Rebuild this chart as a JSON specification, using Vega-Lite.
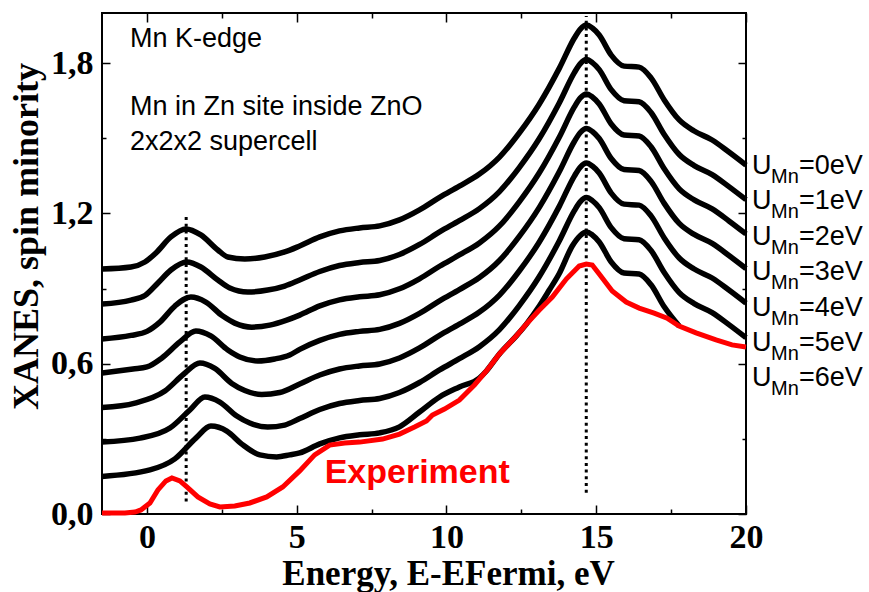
{
  "$schema": "https://vega.github.io/schema/vega-lite/v6.json",
  "width": 644,
  "height": 501,
  "autosize": {"type": "none"},
  "padding": {"left": 102, "top": 13, "right": 123, "bottom": 78},
  "background": "white",
  "config": {
    "view": {"stroke": "black", "strokeWidth": 2},
    "axis": {"grid": false, "domain": false, "tickColor": "black", "tickWidth": 1.5, "labelColor": "black", "titleColor": "black"}
  },
  "datasets": {
    "curves": [
      {"u":"0","x":-1.5,"y":0.978},{"u":"0","x":-0.533,"y":0.986},{"u":"0","x":-0.067,"y":1.006},{"u":"0","x":0.3,"y":1.042},{"u":"0","x":0.8,"y":1.106},{"u":"0","x":1.3,"y":1.138},{"u":"0","x":1.8,"y":1.114},{"u":"0","x":2.367,"y":1.054},{"u":"0","x":2.7,"y":1.026},{"u":"0","x":3.267,"y":1.018},{"u":"0","x":3.933,"y":1.026},{"u":"0","x":4.6,"y":1.046},{"u":"0","x":5.1,"y":1.07},{"u":"0","x":5.77,"y":1.106},{"u":"0","x":6.43,"y":1.13},{"u":"0","x":7.1,"y":1.142},{"u":"0","x":7.77,"y":1.15},{"u":"0","x":8.43,"y":1.174},{"u":"0","x":9.1,"y":1.214},{"u":"0","x":9.77,"y":1.264},{"u":"0","x":10.43,"y":1.309},{"u":"0","x":11.1,"y":1.357},{"u":"0","x":11.77,"y":1.425},{"u":"0","x":12.43,"y":1.521},{"u":"0","x":13.1,"y":1.637},{"u":"0","x":13.77,"y":1.78},{"u":"0","x":14.27,"y":1.9},{"u":"0","x":14.47,"y":1.936},{"u":"0","x":14.67,"y":1.952},{"u":"0","x":14.87,"y":1.94},{"u":"0","x":15.1,"y":1.912},{"u":"0","x":15.5,"y":1.832},{"u":"0","x":15.93,"y":1.788},{"u":"0","x":16.43,"y":1.784},{"u":"0","x":16.83,"y":1.741},{"u":"0","x":17.27,"y":1.653},{"u":"0","x":17.77,"y":1.573},{"u":"0","x":18.27,"y":1.529},{"u":"0","x":18.87,"y":1.493},{"u":"0","x":19.43,"y":1.445},{"u":"0","x":20,"y":1.393},
      {"u":"1","x":-1.5,"y":0.838},{"u":"1","x":-0.533,"y":0.854},{"u":"1","x":-0.067,"y":0.872},{"u":"1","x":0.367,"y":0.922},{"u":"1","x":0.8,"y":0.974},{"u":"1","x":1.333,"y":1.006},{"u":"1","x":1.8,"y":0.986},{"u":"1","x":2.367,"y":0.934},{"u":"1","x":2.767,"y":0.902},{"u":"1","x":3.367,"y":0.886},{"u":"1","x":4.033,"y":0.894},{"u":"1","x":4.6,"y":0.91},{"u":"1","x":5.1,"y":0.934},{"u":"1","x":5.77,"y":0.968},{"u":"1","x":6.43,"y":0.992},{"u":"1","x":7.1,"y":1.004},{"u":"1","x":7.77,"y":1.012},{"u":"1","x":8.43,"y":1.036},{"u":"1","x":9.1,"y":1.076},{"u":"1","x":9.77,"y":1.126},{"u":"1","x":10.43,"y":1.171},{"u":"1","x":11.1,"y":1.219},{"u":"1","x":11.77,"y":1.287},{"u":"1","x":12.43,"y":1.383},{"u":"1","x":13.1,"y":1.499},{"u":"1","x":13.77,"y":1.642},{"u":"1","x":14.27,"y":1.762},{"u":"1","x":14.47,"y":1.798},{"u":"1","x":14.67,"y":1.814},{"u":"1","x":14.87,"y":1.802},{"u":"1","x":15.1,"y":1.774},{"u":"1","x":15.5,"y":1.694},{"u":"1","x":15.93,"y":1.65},{"u":"1","x":16.43,"y":1.646},{"u":"1","x":16.83,"y":1.603},{"u":"1","x":17.27,"y":1.515},{"u":"1","x":17.77,"y":1.435},{"u":"1","x":18.27,"y":1.391},{"u":"1","x":18.87,"y":1.355},{"u":"1","x":19.43,"y":1.307},{"u":"1","x":20,"y":1.255},
      {"u":"2","x":-1.5,"y":0.699},{"u":"2","x":-0.533,"y":0.713},{"u":"2","x":0,"y":0.729},{"u":"2","x":0.433,"y":0.766},{"u":"2","x":0.933,"y":0.83},{"u":"2","x":1.467,"y":0.866},{"u":"2","x":1.967,"y":0.846},{"u":"2","x":2.533,"y":0.79},{"u":"2","x":2.933,"y":0.762},{"u":"2","x":3.5,"y":0.746},{"u":"2","x":4.1,"y":0.754},{"u":"2","x":4.667,"y":0.774},{"u":"2","x":5.1,"y":0.794},{"u":"2","x":5.77,"y":0.831},{"u":"2","x":6.43,"y":0.855},{"u":"2","x":7.1,"y":0.867},{"u":"2","x":7.77,"y":0.875},{"u":"2","x":8.43,"y":0.899},{"u":"2","x":9.1,"y":0.939},{"u":"2","x":9.77,"y":0.989},{"u":"2","x":10.43,"y":1.034},{"u":"2","x":11.1,"y":1.082},{"u":"2","x":11.77,"y":1.15},{"u":"2","x":12.43,"y":1.246},{"u":"2","x":13.1,"y":1.362},{"u":"2","x":13.77,"y":1.505},{"u":"2","x":14.27,"y":1.625},{"u":"2","x":14.47,"y":1.661},{"u":"2","x":14.67,"y":1.677},{"u":"2","x":14.87,"y":1.665},{"u":"2","x":15.1,"y":1.637},{"u":"2","x":15.5,"y":1.557},{"u":"2","x":15.93,"y":1.513},{"u":"2","x":16.43,"y":1.509},{"u":"2","x":16.83,"y":1.466},{"u":"2","x":17.27,"y":1.378},{"u":"2","x":17.77,"y":1.298},{"u":"2","x":18.27,"y":1.254},{"u":"2","x":18.87,"y":1.218},{"u":"2","x":19.43,"y":1.17},{"u":"2","x":20,"y":1.118},
      {"u":"3","x":-1.5,"y":0.563},{"u":"3","x":-0.467,"y":0.579},{"u":"3","x":0,"y":0.587},{"u":"3","x":0.5,"y":0.623},{"u":"3","x":1.1,"y":0.687},{"u":"3","x":1.633,"y":0.731},{"u":"3","x":2.133,"y":0.711},{"u":"3","x":2.7,"y":0.655},{"u":"3","x":3.1,"y":0.627},{"u":"3","x":3.7,"y":0.611},{"u":"3","x":4.267,"y":0.619},{"u":"3","x":4.767,"y":0.635},{"u":"3","x":5.1,"y":0.657},{"u":"3","x":5.77,"y":0.693},{"u":"3","x":6.43,"y":0.717},{"u":"3","x":7.1,"y":0.729},{"u":"3","x":7.77,"y":0.737},{"u":"3","x":8.43,"y":0.761},{"u":"3","x":9.1,"y":0.801},{"u":"3","x":9.77,"y":0.851},{"u":"3","x":10.43,"y":0.896},{"u":"3","x":11.1,"y":0.944},{"u":"3","x":11.77,"y":1.012},{"u":"3","x":12.43,"y":1.108},{"u":"3","x":13.1,"y":1.224},{"u":"3","x":13.77,"y":1.367},{"u":"3","x":14.27,"y":1.487},{"u":"3","x":14.47,"y":1.523},{"u":"3","x":14.67,"y":1.539},{"u":"3","x":14.87,"y":1.527},{"u":"3","x":15.1,"y":1.499},{"u":"3","x":15.5,"y":1.419},{"u":"3","x":15.93,"y":1.375},{"u":"3","x":16.43,"y":1.371},{"u":"3","x":16.83,"y":1.328},{"u":"3","x":17.27,"y":1.24},{"u":"3","x":17.77,"y":1.16},{"u":"3","x":18.27,"y":1.116},{"u":"3","x":18.87,"y":1.08},{"u":"3","x":19.43,"y":1.032},{"u":"3","x":20,"y":0.98},
      {"u":"4","x":-1.5,"y":0.425},{"u":"4","x":-0.4,"y":0.443},{"u":"4","x":0.6,"y":0.491},{"u":"4","x":1.233,"y":0.559},{"u":"4","x":1.767,"y":0.603},{"u":"4","x":2.267,"y":0.581},{"u":"4","x":2.833,"y":0.521},{"u":"4","x":3.267,"y":0.493},{"u":"4","x":3.833,"y":0.477},{"u":"4","x":4.433,"y":0.485},{"u":"4","x":5.1,"y":0.519},{"u":"4","x":5.77,"y":0.555},{"u":"4","x":6.43,"y":0.579},{"u":"4","x":7.1,"y":0.591},{"u":"4","x":7.77,"y":0.599},{"u":"4","x":8.43,"y":0.623},{"u":"4","x":9.1,"y":0.663},{"u":"4","x":9.77,"y":0.713},{"u":"4","x":10.43,"y":0.758},{"u":"4","x":11.1,"y":0.806},{"u":"4","x":11.77,"y":0.874},{"u":"4","x":12.43,"y":0.97},{"u":"4","x":13.1,"y":1.086},{"u":"4","x":13.77,"y":1.229},{"u":"4","x":14.27,"y":1.349},{"u":"4","x":14.47,"y":1.385},{"u":"4","x":14.67,"y":1.401},{"u":"4","x":14.87,"y":1.389},{"u":"4","x":15.1,"y":1.361},{"u":"4","x":15.5,"y":1.281},{"u":"4","x":15.93,"y":1.237},{"u":"4","x":16.43,"y":1.233},{"u":"4","x":16.83,"y":1.19},{"u":"4","x":17.27,"y":1.102},{"u":"4","x":17.77,"y":1.022},{"u":"4","x":18.27,"y":0.978},{"u":"4","x":18.87,"y":0.942},{"u":"4","x":19.43,"y":0.894},{"u":"4","x":20,"y":0.842},
      {"u":"5","x":-1.5,"y":0.287},{"u":"5","x":-0.233,"y":0.303},{"u":"5","x":0.767,"y":0.343},{"u":"5","x":1.433,"y":0.415},{"u":"5","x":1.933,"y":0.467},{"u":"5","x":2.433,"y":0.447},{"u":"5","x":3.0,"y":0.391},{"u":"5","x":3.433,"y":0.363},{"u":"5","x":4.033,"y":0.347},{"u":"5","x":4.6,"y":0.355},{"u":"5","x":5.1,"y":0.381},{"u":"5","x":5.77,"y":0.417},{"u":"5","x":6.43,"y":0.441},{"u":"5","x":7.1,"y":0.453},{"u":"5","x":7.77,"y":0.461},{"u":"5","x":8.43,"y":0.485},{"u":"5","x":9.1,"y":0.525},{"u":"5","x":9.77,"y":0.575},{"u":"5","x":10.43,"y":0.62},{"u":"5","x":11.1,"y":0.668},{"u":"5","x":11.77,"y":0.736},{"u":"5","x":12.43,"y":0.832},{"u":"5","x":13.1,"y":0.948},{"u":"5","x":13.77,"y":1.091},{"u":"5","x":14.27,"y":1.211},{"u":"5","x":14.47,"y":1.247},{"u":"5","x":14.67,"y":1.263},{"u":"5","x":14.87,"y":1.251},{"u":"5","x":15.1,"y":1.223},{"u":"5","x":15.5,"y":1.143},{"u":"5","x":15.93,"y":1.099},{"u":"5","x":16.43,"y":1.095},{"u":"5","x":16.83,"y":1.052},{"u":"5","x":17.27,"y":0.964},{"u":"5","x":17.77,"y":0.884},{"u":"5","x":18.27,"y":0.84},{"u":"5","x":18.87,"y":0.804},{"u":"5","x":19.43,"y":0.756},{"u":"5","x":20,"y":0.704},
      {"u":"6","x":-1.5,"y":0.15},{"u":"6","x":0.1,"y":0.176},{"u":"6","x":0.933,"y":0.22},{"u":"6","x":1.633,"y":0.303},{"u":"6","x":2.133,"y":0.351},{"u":"6","x":2.667,"y":0.331},{"u":"6","x":3.167,"y":0.279},{"u":"6","x":3.767,"y":0.236},{"u":"6","x":4.333,"y":0.228},{"u":"6","x":4.767,"y":0.236},{"u":"6","x":5.1,"y":0.244},{"u":"6","x":5.77,"y":0.28},{"u":"6","x":6.43,"y":0.304},{"u":"6","x":7.1,"y":0.316},{"u":"6","x":7.77,"y":0.324},{"u":"6","x":8.43,"y":0.348},{"u":"6","x":9.1,"y":0.407},{"u":"6","x":9.77,"y":0.467},{"u":"6","x":10.43,"y":0.507},{"u":"6","x":11.1,"y":0.543},{"u":"6","x":11.333,"y":0.571},{"u":"6","x":11.767,"y":0.639},{"u":"6","x":12.333,"y":0.711},{"u":"6","x":12.667,"y":0.758},{"u":"6","x":13.1,"y":0.83},{"u":"6","x":13.433,"y":0.894},{"u":"6","x":13.767,"y":0.96},{"u":"6","x":14.2,"y":1.07},{"u":"6","x":14.47,"y":1.112},{"u":"6","x":14.67,"y":1.126},{"u":"6","x":14.87,"y":1.114},{"u":"6","x":15.1,"y":1.086},{"u":"6","x":15.5,"y":1.006},{"u":"6","x":15.93,"y":0.962},{"u":"6","x":16.43,"y":0.958},{"u":"6","x":16.83,"y":0.915},{"u":"6","x":17.27,"y":0.827},{"u":"6","x":17.77,"y":0.75}
    ],
    "exp": [
      {"x":-1.5,"y":0.004},{"x":-0.733,"y":0.004},{"x":-0.4,"y":0.008},{"x":-0.2,"y":0.016},{"x":0.1,"y":0.044},{"x":0.367,"y":0.096},{"x":0.633,"y":0.132},{"x":0.833,"y":0.144},{"x":1.1,"y":0.132},{"x":1.333,"y":0.108},{"x":1.7,"y":0.068},{"x":2.1,"y":0.04},{"x":2.433,"y":0.028},{"x":2.933,"y":0.032},{"x":3.433,"y":0.044},{"x":4.0,"y":0.068},{"x":4.533,"y":0.108},{"x":5.1,"y":0.172},{"x":5.6,"y":0.236},{"x":6.1,"y":0.275},{"x":6.6,"y":0.283},{"x":7.1,"y":0.287},{"x":7.867,"y":0.299},{"x":8.433,"y":0.319},{"x":8.933,"y":0.347},{"x":9.333,"y":0.371},{"x":9.533,"y":0.395},{"x":9.933,"y":0.419},{"x":10.433,"y":0.455},{"x":10.933,"y":0.515},{"x":11.333,"y":0.571},{"x":11.767,"y":0.639},{"x":12.333,"y":0.711},{"x":12.667,"y":0.758},{"x":13.1,"y":0.814},{"x":13.533,"y":0.866},{"x":14.0,"y":0.938},{"x":14.433,"y":0.99},{"x":14.667,"y":0.998},{"x":14.867,"y":0.994},{"x":15.1,"y":0.958},{"x":15.533,"y":0.89},{"x":16.0,"y":0.846},{"x":16.433,"y":0.822},{"x":16.933,"y":0.802},{"x":17.367,"y":0.782},{"x":17.767,"y":0.75},{"x":18.333,"y":0.723},{"x":19.0,"y":0.695},{"x":19.533,"y":0.675},{"x":20,"y":0.667}
    ],
    "dots": [
      {"x": 1.31, "y": 0.05, "y2": 1.2},
      {"x": 14.667, "y": 0.085, "y2": 1.988}
    ],
    "notes": [
      {"x": -0.567, "y": 1.864, "t": "Mn K-edge"},
      {"x": -0.567, "y": 1.593, "t": "Mn in Zn site inside ZnO"},
      {"x": -0.567, "y": 1.453, "t": "2x2x2 supercell"}
    ],
    "expl": [
      {"x": 5.933, "y": 0.124, "t": "Experiment"}
    ],
    "ulabels": [
      {"x": 20.2, "y": 1.357, "rest": "=0eV"},
      {"x": 20.2, "y": 1.216, "rest": "=1eV"},
      {"x": 20.2, "y": 1.074, "rest": "=2eV"},
      {"x": 20.2, "y": 0.933, "rest": "=3eV"},
      {"x": 20.2, "y": 0.792, "rest": "=4eV"},
      {"x": 20.2, "y": 0.65, "rest": "=5eV"},
      {"x": 20.2, "y": 0.509, "rest": "=6eV"}
    ]
  },
  "layer": [
    {
      "data": {"name": "dots"},
      "mark": {"type": "rule", "color": "black", "strokeWidth": 3, "strokeDash": [3, 3.7]},
      "encoding": {
        "x": {"field": "x", "type": "quantitative", "scale": {"domain": [-1.5, 20], "nice": false, "zero": false},
              "axis": {"orient": "top", "values": [0, 5, 10, 15, 20], "tickSize": -9, "labels": false, "title": null}},
        "y": {"field": "y", "type": "quantitative", "scale": {"domain": [0, 2], "nice": false, "zero": false},
              "axis": {"orient": "right", "values": [0, 0.6, 1.2, 1.8], "tickSize": -8, "labels": false, "title": null}},
        "y2": {"field": "y2"}
      }
    },
    {
      "data": {"name": "curves"},
      "mark": {"type": "line", "color": "black", "strokeWidth": 5.5, "interpolate": "monotone"},
      "encoding": {
        "x": {"field": "x", "type": "quantitative", "scale": {"domain": [-1.5, 20], "nice": false, "zero": false},
              "axis": {"orient": "bottom", "values": [0, 5, 10, 15, 20], "tickSize": -9, "labelFont": "Liberation Serif", "labelFontWeight": "bold", "labelFontSize": 34, "labelPadding": 15, "labelFlush": false, "labelOverlap": false,
                       "title": "Energy, E-EFermi, eV", "titleFont": "Liberation Serif", "titleFontWeight": "bold", "titleFontSize": 35, "titleX": 346, "titleY": 70, "titleAlign": "center", "titleBaseline": "alphabetic"}},
        "y": {"field": "y", "type": "quantitative", "scale": {"domain": [0, 2], "nice": false, "zero": false},
              "axis": {"orient": "left", "values": [0, 0.6, 1.2, 1.8], "tickSize": -8, "labelFont": "Liberation Serif", "labelFontWeight": "bold", "labelFontSize": 34, "labelPadding": 17, "labelFlush": false, "labelOverlap": false,
                       "labelExpr": "replace(format(datum.value, '.1f'), '.', ',')",
                       "title": "XANES, spin minority", "titleFont": "Liberation Serif", "titleFontWeight": "bold", "titleFontSize": 36, "titleX": -65, "titleY": 223, "titleAlign": "center", "titleBaseline": "alphabetic", "titleAngle": 270}},
        "detail": {"field": "u", "type": "nominal"}
      }
    },
    {
      "data": {"name": "exp"},
      "mark": {"type": "line", "color": "#ff0000", "strokeWidth": 5},
      "encoding": {
        "x": {"field": "x", "type": "quantitative", "scale": {"domain": [-1.5, 20], "nice": false, "zero": false},
              "axis": {"orient": "bottom", "values": [2.5, 7.5, 12.5, 17.5], "tickSize": -5, "labels": false, "title": null}},
        "y": {"field": "y", "type": "quantitative", "scale": {"domain": [0, 2], "nice": false, "zero": false},
              "axis": {"orient": "left", "values": [0.3, 0.9, 1.5], "tickSize": -4, "labels": false, "title": null}}
      }
    },
    {
      "data": {"name": "notes"},
      "mark": {"type": "text", "color": "black", "font": "Liberation Sans", "fontSize": 27, "align": "left", "baseline": "alphabetic"},
      "encoding": {
        "x": {"field": "x", "type": "quantitative", "scale": {"domain": [-1.5, 20], "nice": false, "zero": false},
              "axis": {"orient": "top", "values": [2.5, 7.5, 12.5, 17.5], "tickSize": -5, "labels": false, "title": null}},
        "y": {"field": "y", "type": "quantitative", "scale": {"domain": [0, 2], "nice": false, "zero": false},
              "axis": {"orient": "right", "values": [0.3, 0.9, 1.5], "tickSize": -4, "labels": false, "title": null}},
        "text": {"field": "t"}
      }
    },
    {
      "data": {"name": "expl"},
      "mark": {"type": "text", "color": "#ff0000", "font": "Liberation Sans", "fontWeight": "bold", "fontSize": 34, "align": "left", "baseline": "alphabetic"},
      "encoding": {
        "x": {"field": "x", "type": "quantitative", "scale": {"domain": [-1.5, 20], "nice": false, "zero": false}, "axis": null},
        "y": {"field": "y", "type": "quantitative", "scale": {"domain": [0, 2], "nice": false, "zero": false}, "axis": null},
        "text": {"field": "t"}
      }
    },
    {
      "data": {"name": "ulabels"},
      "mark": {"type": "text", "text": "U", "color": "black", "font": "Liberation Sans", "fontSize": 27, "align": "left", "baseline": "alphabetic"},
      "encoding": {
        "x": {"field": "x", "type": "quantitative", "scale": {"domain": [-1.5, 20], "nice": false, "zero": false}, "axis": null},
        "y": {"field": "y", "type": "quantitative", "scale": {"domain": [0, 2], "nice": false, "zero": false}, "axis": null}
      }
    },
    {
      "data": {"name": "ulabels"},
      "mark": {"type": "text", "text": "Mn", "color": "black", "font": "Liberation Sans", "fontSize": 20, "align": "left", "baseline": "alphabetic", "dx": 19, "dy": 9},
      "encoding": {
        "x": {"field": "x", "type": "quantitative", "scale": {"domain": [-1.5, 20], "nice": false, "zero": false}, "axis": null},
        "y": {"field": "y", "type": "quantitative", "scale": {"domain": [0, 2], "nice": false, "zero": false}, "axis": null}
      }
    },
    {
      "data": {"name": "ulabels"},
      "mark": {"type": "text", "color": "black", "font": "Liberation Sans", "fontSize": 27, "align": "left", "baseline": "alphabetic", "dx": 47},
      "encoding": {
        "x": {"field": "x", "type": "quantitative", "scale": {"domain": [-1.5, 20], "nice": false, "zero": false}, "axis": null},
        "y": {"field": "y", "type": "quantitative", "scale": {"domain": [0, 2], "nice": false, "zero": false}, "axis": null},
        "text": {"field": "rest"}
      }
    }
  ],
  "resolve": {"axis": {"x": "independent", "y": "independent"}}
}
